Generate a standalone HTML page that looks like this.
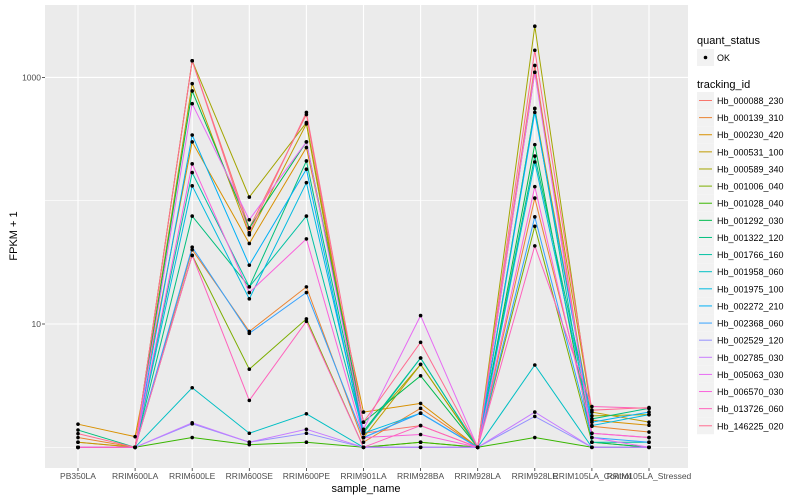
<!DOCTYPE html>
<html><head><meta charset="utf-8">
<style>
html,body{margin:0;padding:0;background:#fff;}
svg{display:block;font-family:"Liberation Sans",sans-serif;}
</style></head>
<body>
<svg id="chart" width="800" height="500"></svg>
<script>
const samples = ["PB350LA","RRIM600LA","RRIM600LE","RRIM600SE","RRIM600PE","RRIM901LA","RRIM928BA","RRIM928LA","RRIM928LE","RRIM105LA_Control","RRIM105LA_Stressed"];
const trackingIds = ["Hb_000088_230","Hb_000139_310","Hb_000230_420","Hb_000531_100","Hb_000589_340","Hb_001006_040","Hb_001028_040","Hb_001292_030","Hb_001322_120","Hb_001766_160","Hb_001958_060","Hb_001975_100","Hb_002272_210","Hb_002368_060","Hb_002529_120","Hb_002785_030","Hb_005063_030","Hb_006570_030","Hb_013726_060","Hb_146225_020"];
const seriesColors = ["#F8766D","#EA8331","#D89000","#C09B00","#A3A500","#7CAE00","#39B600","#00BB4E","#00BF7D","#00C1A3","#00BFC4","#00BAE0","#00B0F6","#35A2FF","#9590FF","#C77CFF","#E76BF3","#FA62DB","#FF62BC","#FF6C91"];
const s00 = [1.1,1.0,1365,60,500,1.3,1.5,1.0,1250,1.3,1.2];
const s01 = [1.2,1.0,40,8.7,20,1.1,2.07,1.0,105,1.48,1.33];
const s02 = [1.54,1.22,300,45,270,1.93,2.27,1.0,560,1.66,1.51];
const s03 = [1.1,1.0,890,53,420,1.2,4.7,1.0,1100,1.93,1.6];
const s04 = [1.0,1.0,1365,107,430,1.35,4.7,1.0,2600,1.8,1.84];
const s05 = [1.0,1.0,36,4.3,11,1.0,1.1,1.0,62,1.1,1.0];
const s06 = [1.0,1.0,1.2,1.05,1.1,1.0,1.1,1.0,1.2,1.0,1.0];
const s07 = [1.0,1.0,776,60,300,1.6,3.8,1.0,285,1.1,1.0];
const s08 = [1.38,1.0,75,20,210,1.35,5.3,1.0,230,1.7,2.07];
const s09 = [1.0,1.0,169,20,75,1.3,5.3,1.0,560,1.1,1.1];
const s10 = [1.0,1.0,3.04,1.3,1.87,1.0,1.0,1.0,4.65,1.0,1.0];
const s11 = [1.0,1.0,132,16,140,1.3,1.89,1.0,206,1.5,1.84];
const s12 = [1.0,1.0,341,30,180,1.2,1.89,1.0,520,1.6,1.93];
const s13 = [1.0,1.0,42,8.4,18,1.2,1.89,1.0,74,1.2,1.1];
const s14 = [1.0,1.0,1.55,1.1,1.3,1.0,1.0,1.0,1.78,1.0,1.0];
const s15 = [1.0,1.0,1.58,1.1,1.4,1.0,1.0,1.0,1.93,1.0,1.0];
const s16 = [1.0,1.0,612,70,300,1.4,11.7,1.0,1100,1.2,1.0];
const s17 = [1.0,1.0,199,18,49,1.2,1.27,1.0,130,1.3,1.2];
const s18 = [1.0,1.0,36,2.4,10.5,1.0,1.5,1.0,43,2.14,2.07];
const s19 = [1.29,1.0,1365,55,520,1.6,7.1,1.0,1660,2.0,2.1];
const seriesValues = [s00,s01,s02,s03,s04,s05,s06,s07,s08,s09,s10,s11,s12,s13,s14,s15,s16,s17,s18,s19];
const yTicks = [10,1000];
const yTickLabels = ["10","1000"];
const yMinor = [1,100];

const NS="http://www.w3.org/2000/svg";
const svg=document.getElementById('chart');
const PL=45,PR=688,PT=5,PB=468;
function xs(i){return 78+i*57.1;}
function ys(v){return 447.3-Math.log10(v)*123.3;}
function mk(tag,attrs,parent){const e=document.createElementNS(NS,tag);for(const k in attrs)e.setAttribute(k,attrs[k]);(parent||svg).appendChild(e);return e;}

const panel=mk('rect',{x:PL,y:PT,width:PR-PL,height:PB-PT,fill:'#EBEBEB'});


yMinor.forEach(v=>{const l=mk('line',{x1:PL,x2:PR,y1:ys(v),y2:ys(v),stroke:'#fff','stroke-width':0.6});

});
yTicks.forEach((v,i)=>{const l=mk('line',{x1:PL,x2:PR,y1:ys(v),y2:ys(v),stroke:'#fff','stroke-width':1.1});


const tk=mk('line',{x1:PL-3,x2:PL,y1:ys(v),y2:ys(v),stroke:'#333','stroke-width':0.8});


const t=mk('text',{x:PL-4,y:ys(v)+3,'text-anchor':'end','font-size':8.5,fill:'#4D4D4D'});t.textContent=yTickLabels[i];

});
samples.forEach((s,i)=>{const l=mk('line',{x1:xs(i),x2:xs(i),y1:PT,y2:PB,stroke:'#fff','stroke-width':1.1});


const tk=mk('line',{x1:xs(i),x2:xs(i),y1:PB,y2:PB+3,stroke:'#333','stroke-width':0.8});


const t=mk('text',{x:xs(i),y:PB+11,'text-anchor':'middle','font-size':8.5,fill:'#4D4D4D'});t.textContent=s;

});

seriesValues.forEach((vals,si)=>{
  const p=mk('polyline',{points:vals.map((v,i)=>xs(i)+','+ys(v)).join(' '),fill:'none',stroke:seriesColors[si],'stroke-width':1});
  
  
});
seriesValues.forEach((vals,si)=>{vals.forEach((v,i)=>{
  const c=mk('circle',{cx:xs(i),cy:ys(v),r:1.8,fill:'#000'});
  
  
});});

const xt=mk('text',{x:366,y:492,'text-anchor':'middle','font-size':11,fill:'#000'});xt.textContent='sample_name';


const yt=mk('text',{x:17,y:236,'text-anchor':'middle','font-size':11,fill:'#000',transform:'rotate(-90 17 236)'});yt.textContent='FPKM + 1';



const lg=mk('g',{});


const qt=mk('text',{x:697,y:44,'font-size':11,fill:'#000'},lg);qt.textContent='quant_status';


const qb=mk('rect',{x:697,y:49,width:17,height:17,fill:'#F2F2F2'},lg);


mk('circle',{cx:705.5,cy:57.5,r:1.8,fill:'#000'},lg);
const qo=mk('text',{x:717,y:61,'font-size':9,fill:'#000'},lg);qo.textContent='OK';


const tt=mk('text',{x:697,y:88,'font-size':11,fill:'#000'},lg);tt.textContent='tracking_id';


trackingIds.forEach((id,i)=>{
  const y=92+i*17.12;
  const g=mk('g',{},lg);
  
  
  mk('rect',{x:697,y:y,width:17,height:17,fill:'#F2F2F2'},g);
  mk('line',{x1:699,x2:712,y1:y+8.5,y2:y+8.5,stroke:seriesColors[i],'stroke-width':1},g);
  const t=mk('text',{x:717,y:y+12,'font-size':9,fill:'#000'},g);t.textContent=id;
});
</script>
</body></html>
